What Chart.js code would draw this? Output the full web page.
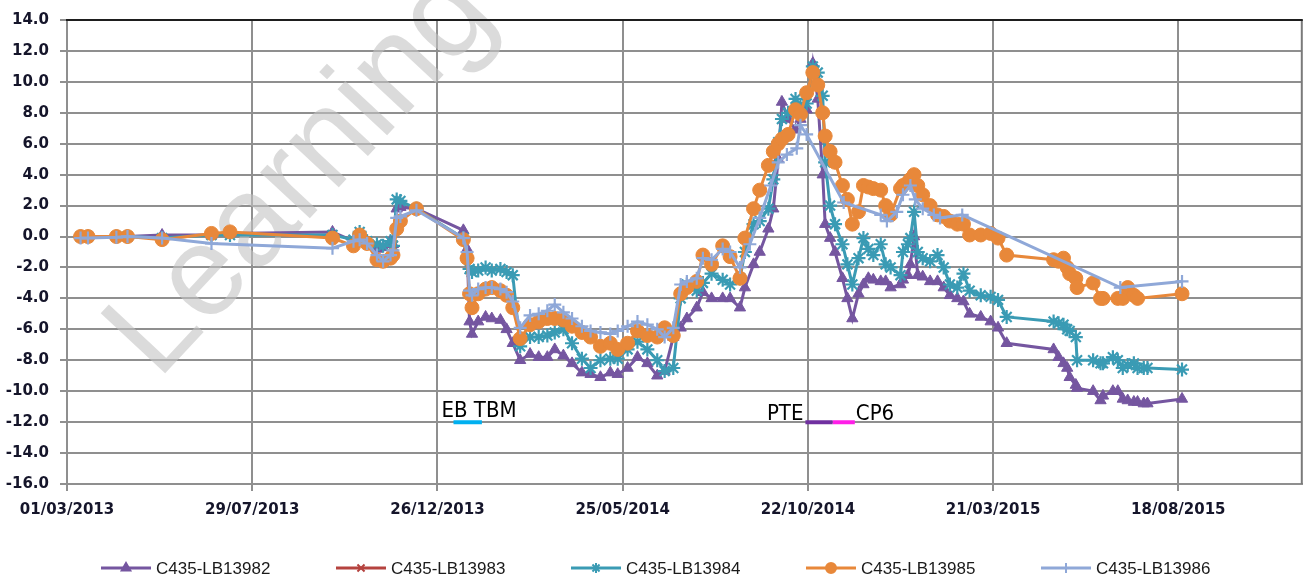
<!DOCTYPE html>
<html><head><meta charset="utf-8">
<script src="https://cdn.jsdelivr.net/npm/chart.js@4.4.1/dist/chart.umd.min.js"></script>
<style>html,body{margin:0;padding:0;background:#fff}#wrap{width:1311px;height:581px;position:relative}</style>
</head><body><div id="wrap"><canvas id="c" width="1311" height="581"></canvas></div>
<script>
// ---------------- DATA ----------------
const startDate = '2013-03-01';
const endDay = 1000;
const seriesNames = ['C435-LB13982', 'C435-LB13983', 'C435-LB13984', 'C435-LB13985', 'C435-LB13986'];
const xTickLabels = ['01/03/2013', '29/07/2013', '26/12/2013', '25/05/2014', '22/10/2014', '21/03/2015', '18/08/2015'];
const yTickMin = -16, yTickMax = 14, yTickStep = 2;

const commonDates = [
 '2013-03-12','2013-03-18','2013-04-10','2013-04-19','2013-05-17','2013-06-26','2013-07-11','2013-10-02','2013-10-19','2013-10-24',
 '2013-10-30','2013-11-07','2013-11-12','2013-11-18','2013-11-20','2013-11-23','2013-11-26','2013-12-09','2014-01-16','2014-01-19',
 '2014-01-21','2014-01-23','2014-01-28','2014-02-03','2014-02-08','2014-02-15','2014-02-20','2014-02-25','2014-03-03','2014-03-11',
 '2014-03-18','2014-03-25','2014-03-31','2014-04-07','2014-04-14','2014-04-22','2014-04-29','2014-05-07','2014-05-15','2014-05-21',
 '2014-05-29','2014-06-06','2014-06-14','2014-06-22','2014-06-28','2014-07-05','2014-07-11','2014-07-16','2014-07-24','2014-07-29',
 '2014-08-05','2014-08-14','2014-08-20','2014-08-28','2014-09-01','2014-09-08','2014-09-13','2014-09-20','2014-09-24','2014-09-28',
 '2014-10-01','2014-10-06','2014-10-12','2014-10-16','2014-10-21','2014-10-26','2014-10-30','2014-11-03','2014-11-05','2014-11-09',
 '2014-11-13','2014-11-19','2014-11-23','2014-11-27','2014-12-02','2014-12-06','2014-12-10','2014-12-14','2014-12-20','2014-12-24',
 '2014-12-28','2015-01-05','2015-01-07','2015-01-11','2015-01-13','2015-01-16','2015-01-19','2015-01-23','2015-01-29','2015-02-04',
 '2015-02-09','2015-02-14','2015-02-20','2015-02-25','2015-03-02','2015-03-11','2015-03-19','2015-03-25','2015-04-01','2015-05-09',
 '2015-05-13','2015-05-17','2015-05-20','2015-05-22','2015-05-27','2015-05-28','2015-06-10','2015-06-16','2015-06-18','2015-06-26',
 '2015-06-30','2015-07-04','2015-07-08','2015-07-13','2015-07-16','2015-07-21','2015-07-24','2015-08-21'
];
const valuesLB13982 = [
 0.0,0.0,0.0,0.0,0.1,0.1,0.2,0.3,-0.3,0.0,
 -0.3,-0.8,-0.7,-0.3,-0.5,1.8,1.9,1.8,0.4,-0.8,
 -5.5,-6.3,-5.5,-5.2,-5.3,-5.4,-6.0,-6.9,-8.0,-7.6,
 -7.8,-7.8,-7.3,-7.7,-8.2,-8.8,-8.9,-9.1,-8.8,-8.9,
 -8.5,-7.8,-8.2,-9.0,-8.7,-6.5,-5.9,-5.3,-4.6,-3.6,
 -4.0,-4.0,-4.0,-4.6,-3.3,-1.8,-1.0,0.5,1.8,5.0,
 8.7,7.6,6.9,7.6,8.2,11.2,8.9,4.0,0.8,-0.1,
 -1.0,-2.7,-4.0,-5.3,-3.7,-3.1,-2.7,-2.8,-2.9,-2.9,
 -3.3,-3.1,-2.8,-2.5,-1.8,0.0,-2.5,-2.6,-2.9,-2.9,
 -3.3,-3.8,-4.0,-4.2,-5.0,-5.2,-5.5,-5.9,-6.9,-7.3,
 -7.8,-8.2,-8.5,-9.1,-9.6,-9.8,-10.0,-10.6,-10.3,-10.0,
 -10.0,-10.5,-10.6,-10.7,-10.7,-10.8,-10.8,-10.5
];
const valuesLB13983 = []; // hidden beneath the other series in the source
const valuesLB13984 = [
 0.0,0.0,0.0,0.0,-0.1,0.1,0.1,0.1,-0.2,0.3,
 -0.3,-0.5,-0.6,-0.3,-0.6,2.4,2.3,1.8,-0.1,-1.4,
 -2.1,-2.3,-2.2,-2.0,-2.2,-2.1,-2.3,-2.5,-7.1,-6.5,
 -6.5,-6.4,-6.2,-6.0,-6.9,-7.9,-8.5,-8.0,-7.9,-7.9,
 -7.3,-6.8,-7.3,-8.0,-8.7,-8.5,-4.0,-3.1,-3.5,-3.0,
 -2.4,-2.8,-3.1,-2.7,-1.0,0.8,1.0,1.8,3.7,6.1,
 7.6,8.0,8.9,8.5,8.6,11.0,10.6,9.1,4.8,2.0,
 0.8,-0.5,-1.8,-3.1,-1.4,-0.1,-0.8,-1.2,-0.5,-1.8,
 -2.0,-2.5,-1.0,-0.5,-0.1,1.6,-1.0,-1.4,-1.6,-1.2,
 -2.0,-3.1,-3.3,-2.4,-3.5,-3.8,-3.9,-4.1,-5.2,-5.5,
 -5.6,-5.7,-6.0,-6.1,-6.5,-8.0,-8.0,-8.2,-8.2,-7.8,
 -8.0,-8.5,-8.3,-8.2,-8.5,-8.5,-8.5,-8.6
];
const valuesLB13985 = [
 0.0,0.0,0.0,0.0,-0.2,0.2,0.3,-0.1,-0.6,0.1,
 -0.45,-1.5,-1.6,-1.4,-1.2,0.5,1.0,1.8,-0.2,-1.4,
 -3.7,-4.6,-3.7,-3.4,-3.3,-3.5,-3.8,-4.6,-6.6,-5.7,
 -5.5,-5.3,-5.3,-5.4,-5.8,-6.2,-6.5,-7.1,-6.9,-7.3,
 -6.9,-6.1,-6.4,-6.5,-5.9,-6.4,-3.7,-3.3,-2.9,-1.2,
 -1.8,-0.6,-1.3,-2.7,-0.1,1.8,3.0,4.6,5.5,6.0,
 6.3,6.6,8.2,7.9,9.3,10.6,9.8,8.0,6.5,5.5,
 4.8,3.3,2.4,0.8,1.6,3.3,3.2,3.1,3.0,2.0,
 1.4,3.1,3.3,3.5,3.7,4.0,3.3,2.7,2.0,1.4,
 1.3,1.0,0.8,0.8,0.1,0.1,0.2,-0.1,-1.2,-1.5,
 -1.6,-1.4,-2.0,-2.4,-2.7,-3.3,-3.0,-4.0,-4.0,null,
 -4.0,-4.0,-3.3,-3.8,-4.0,null,null,-3.7
];
const datesLB13986 = [
 '2013-03-12','2013-03-18','2013-04-10','2013-04-19','2013-05-17','2013-06-26','2013-10-02','2013-10-19','2013-10-24','2013-10-30',
 '2013-11-07','2013-11-12','2013-11-18','2013-11-20','2013-11-23','2013-11-26','2013-12-09','2014-01-16','2014-01-19','2014-01-21',
 '2014-01-23','2014-01-28','2014-02-03','2014-02-08','2014-02-15','2014-02-20','2014-02-25','2014-03-03','2014-03-11','2014-03-18',
 '2014-03-25','2014-03-31','2014-04-07','2014-04-14','2014-04-22','2014-04-29','2014-05-07','2014-05-15','2014-05-21','2014-05-29',
 '2014-06-06','2014-06-14','2014-06-22','2014-06-28','2014-07-05','2014-07-11','2014-07-16','2014-07-24','2014-07-29','2014-08-05',
 '2014-08-14','2014-08-20','2014-08-28','2014-09-05','2014-09-13','2014-09-22','2014-09-28','2014-10-05','2014-10-13','2014-10-16',
 '2014-10-21','2014-11-20','2014-12-20','2014-12-25','2015-01-02','2015-01-07','2015-01-13','2015-01-17','2015-01-23','2015-02-01',
 '2015-02-06','2015-02-24','2015-07-02','2015-08-21'
];
const valuesLB13986 = [
 -0.1,-0.1,-0.05,0.0,-0.1,-0.45,-0.75,-0.3,-0.2,-0.45,
 -1.2,-1.6,-1.2,-0.9,1.2,1.3,1.7,-0.1,-1.0,-3.5,
 -3.8,-3.4,-3.3,-3.3,-3.4,-3.6,-4.2,-5.9,-5.1,-5.0,
 -4.8,-4.4,-4.9,-5.3,-5.8,-6.1,-6.2,-6.3,-6.1,-5.8,
 -5.5,-5.7,-6.0,-6.5,-5.9,-3.1,-2.9,-2.7,-1.4,-1.5,
 -0.8,-1.0,-2.0,-0.5,1.2,3.3,4.8,5.3,5.7,7.2,
 6.6,2.2,1.4,1.0,1.6,2.7,3.3,2.4,1.8,1.4,
 1.2,1.4,-3.3,-2.9
];
// construction phases (bars drawn at the -12 level)
const phaseNames = ['EB TBM', 'PTE', 'CP6'];
const phaseStart = ['2014-01-08', '2014-10-20', '2014-11-11'];
const phaseEnd = ['2014-01-31', '2014-11-11', '2014-11-29'];
const phaseLevel = -12;

// ---------------- STYLES ----------------
const seriesColors = ['#7556a0', '#b5433f', '#3a9bb4', '#e8883a', '#8fa8d8'];
const seriesPoint = ['triangle', 'crossRot', 'star', 'circle', 'cross'];
const seriesRadius = [6.5, 6, 7, 7, 6.5];
const phaseColors = ['#00b0f0', '#7030a0', '#ff1ee8'];
const tickFont = {family: "'DejaVu Sans', sans-serif", weight: 'bold', size: 15};
const tickColor = '#15152a';
const gridColor = '#8f8f8f';

const dayOf = s => (Date.parse(s) - Date.parse(startDate)) / 86400000;
const isoOf = l => { const p = l.split('/'); return p[2] + '-' + p[1] + '-' + p[0]; };
const xTickValues = xTickLabels.map(l => dayOf(isoOf(l)));
const toPts = (dates, vals) => dates.map((d, i) => (vals[i] == null ? null : {x: dayOf(d), y: vals[i]})).filter(p => p);

const seriesData = [
  toPts(commonDates, valuesLB13982),
  toPts(commonDates, valuesLB13983),
  toPts(commonDates, valuesLB13984),
  toPts(commonDates, valuesLB13985),
  toPts(datesLB13986, valuesLB13986)
];

const datasets = seriesNames.map((n, i) => ({
  label: n,
  data: seriesData[i],
  borderColor: seriesColors[i],
  backgroundColor: seriesColors[i],
  pointBackgroundColor: seriesColors[i],
  pointBorderColor: seriesColors[i],
  pointStyle: seriesPoint[i],
  pointRadius: seriesRadius[i],
  pointBorderWidth: (seriesPoint[i] === 'circle' || seriesPoint[i] === 'triangle') ? 1 : 2.2,
  borderWidth: 3,
  tension: 0,
  order: 10 - i,
  isSeries: true
}));
phaseNames.forEach((n, i) => {
  datasets.push({
    label: n,
    data: [{x: dayOf(phaseStart[i]), y: phaseLevel}, {x: dayOf(phaseEnd[i]), y: phaseLevel}],
    borderColor: phaseColors[i],
    borderWidth: 4,
    pointRadius: 0,
    order: 0,
    isPhase: true
  });
});

const watermark = {
  id: 'watermark',
  beforeDatasetsDraw(chart) {
    const ctx = chart.ctx;
    ctx.save();
    ctx.translate(158, 381);
    ctx.rotate(-47 * Math.PI / 180);
    ctx.font = "128px 'Liberation Sans', Arial, sans-serif";
    ctx.fillStyle = 'rgba(195,195,195,0.6)';
    ctx.textBaseline = 'alphabetic';
    ctx.fillText('Learning', 0, 0);
    ctx.restore();
  }
};

const frame = {
  id: 'frame',
  afterDatasetsDraw(chart) {
    const {ctx, chartArea: a, scales} = chart;
    ctx.save();
    ctx.lineWidth = 2;
    ctx.strokeStyle = '#7a7a7a';
    ctx.beginPath();
    ctx.moveTo(a.right, a.top); ctx.lineTo(a.right, a.bottom);
    ctx.stroke();
    ctx.strokeStyle = '#1e1e1e';
    ctx.beginPath();
    ctx.moveTo(a.left - 1, a.top); ctx.lineTo(a.right + 1, a.top);
    ctx.stroke();
    // phase labels
    ctx.fillStyle = '#000';
    ctx.font = "22px 'Liberation Sans Narrow', 'DejaVu Sans Condensed', sans-serif";
    ctx.textBaseline = 'alphabetic';
    const yb = scales.y.getPixelForValue(phaseLevel);
    ctx.textAlign = 'left';
    ctx.fillText(phaseNames[0], scales.x.getPixelForValue(dayOf(phaseStart[0])) - 12, yb - 5);
    ctx.textAlign = 'right';
    ctx.fillText(phaseNames[1], scales.x.getPixelForValue(dayOf(phaseStart[1])) - 2, yb - 2);
    ctx.textAlign = 'left';
    ctx.fillText(phaseNames[2], scales.x.getPixelForValue(dayOf(phaseEnd[2])) + 1, yb - 2);
    ctx.restore();
  }
};

const customLegend = {
  id: 'customLegend',
  afterDraw(chart) {
    const ctx = chart.ctx;
    const items = chart.data.datasets.filter(d => d.isSeries);
    const lineLen = 50, gap = 5, pitch = 235, x0 = 101, y = 568;
    ctx.save();
    ctx.font = "17px 'Liberation Sans', Arial, sans-serif";
    items.forEach((d, i) => {
      const x = x0 + i * pitch;
      ctx.strokeStyle = d.borderColor;
      ctx.lineWidth = 3;
      ctx.beginPath(); ctx.moveTo(x, y); ctx.lineTo(x + lineLen, y); ctx.stroke();
      ctx.fillStyle = d.borderColor;
      ctx.lineWidth = 2;
      Chart.helpers.drawPoint(ctx, {pointStyle: d.pointStyle, radius: 5, borderWidth: 2, rotation: 0}, x + lineLen / 2, y);
      ctx.fillStyle = '#1a1a1a';
      ctx.textAlign = 'left';
      ctx.textBaseline = 'middle';
      ctx.fillText(d.label, x + lineLen + gap, y + 1);
    });
    ctx.restore();
  }
};

new Chart(document.getElementById('c'), {
  type: 'line',
  data: {datasets},
  options: {
    responsive: false,
    animation: false,
    layout: {padding: {left: 0, right: 8, top: 17, bottom: 0}},
    plugins: {legend: {display: false}, tooltip: {enabled: false}},
    scales: {
      x: {
        type: 'linear', min: 0, max: endDay,
        afterBuildTicks: s => { s.ticks = xTickValues.map(v => ({value: v})); },
        afterFit: s => { s.height = 97; },
        ticks: {autoSkip: false, maxRotation: 0, padding: 10, color: tickColor, font: tickFont,
          callback: (v) => { const k = xTickValues.indexOf(v); return k >= 0 ? xTickLabels[k] : ''; }},
        grid: {color: gridColor, lineWidth: 2, tickLength: 7, drawTicks: true},
        border: {color: gridColor, width: 2}
      },
      y: {
        min: yTickMin, max: yTickMax,
        afterFit: s => { s.width = 67; },
        ticks: {stepSize: yTickStep, padding: 11, color: tickColor, font: tickFont, callback: v => Number(v).toFixed(1)},
        grid: {color: gridColor, lineWidth: 2, tickLength: 7, drawTicks: true},
        border: {color: gridColor, width: 2}
      }
    }
  },
  plugins: [watermark, frame, customLegend]
});
</script></body></html>
